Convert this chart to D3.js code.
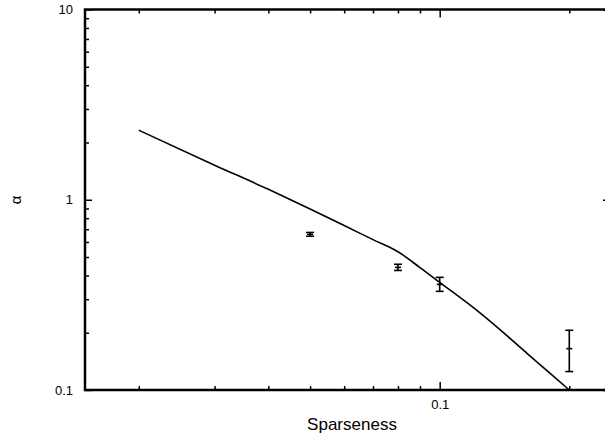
<!DOCTYPE html>
<html>
<head>
<meta charset="utf-8">
<script src="https://cdn.jsdelivr.net/npm/d3@7"></script>
<style>
    body { margin: 0; background: #fff; }
    svg { display: block; font-family: "Liberation Sans", Arial, sans-serif; }
</style>
</head>
<body>
<div id="chart"></div>
<script>
// Model curve (sparseness -> alpha)
const curveX = [0.02, 0.03, 0.04, 0.05, 0.06, 0.07, 0.08, 0.09, 0.1, 0.12, 0.14, 0.16, 0.18, 0.2];
const curveY = [2.32, 1.52, 1.135, 0.894, 0.732, 0.617, 0.533, 0.44, 0.368, 0.27, 0.202, 0.155, 0.123, 0.1];

// Measured points with error bars
const pointX = [0.05, 0.08, 0.1, 0.2];
const pointY = [0.658, 0.441, 0.359, 0.165];
const pointLo = [0.643, 0.425, 0.330, 0.125];
const pointHi = [0.673, 0.458, 0.391, 0.206];

const xMajor = [0.1];
const xMinor = [0.02, 0.03, 0.04, 0.05, 0.06, 0.07, 0.08, 0.09, 0.2];
const yMajor = [0.1, 1, 10];
const yMinor = [0.2, 0.3, 0.4, 0.5, 0.6, 0.7, 0.8, 0.9, 2, 3, 4, 5, 6, 7, 8, 9];

const width = 605, height = 436;
const plot = { left: 85, right: 611, top: 9.5, bottom: 390 };

const svg = d3.select("#chart").append("svg")
    .attr("width", width)
    .attr("height", height);

const x = d3.scaleLog().domain([0.015, 0.25]).range([plot.left, plot.right]);
const y = d3.scaleLog().domain([0.1, 10]).range([plot.bottom, plot.top]);

function styleAxis(g) {
    g.select(".domain").remove();
    g.selectAll("line").attr("stroke", "#000").attr("stroke-width", 1.5);
    g.selectAll("text").attr("fill", "#000").style("font-size", "13px");
}

// bottom
svg.append("g").attr("transform", `translate(0,${plot.bottom})`)
    .call(d3.axisBottom(x).tickValues(xMinor).tickSize(-4).tickFormat(""))
    .call(styleAxis);
svg.append("g").attr("transform", `translate(0,${plot.bottom})`)
    .call(d3.axisBottom(x).tickValues(xMajor).tickSize(-8).tickPadding(10).tickFormat(d3.format("")))
    .call(styleAxis);
// top
svg.append("g").attr("transform", `translate(0,${plot.top})`)
    .call(d3.axisTop(x).tickValues(xMinor).tickSize(-4).tickFormat(""))
    .call(styleAxis);
svg.append("g").attr("transform", `translate(0,${plot.top})`)
    .call(d3.axisTop(x).tickValues(xMajor).tickSize(-8).tickFormat(""))
    .call(styleAxis);
// left
svg.append("g").attr("transform", `translate(${plot.left},0)`)
    .call(d3.axisLeft(y).tickValues(yMinor).tickSize(-4).tickFormat(""))
    .call(styleAxis);
svg.append("g").attr("transform", `translate(${plot.left},0)`)
    .call(d3.axisLeft(y).tickValues(yMajor).tickSize(-7).tickPadding(12).tickFormat(d3.format("")))
    .call(styleAxis);
// right
svg.append("g").attr("transform", `translate(${plot.right},0)`)
    .call(d3.axisRight(y).tickValues(yMajor).tickSize(-8).tickFormat(""))
    .call(styleAxis);

// frame
svg.append("rect")
    .attr("x", plot.left).attr("y", plot.top)
    .attr("width", plot.right - plot.left).attr("height", plot.bottom - plot.top)
    .attr("fill", "none")
    .attr("stroke", "#000")
    .attr("stroke-width", 2.5);

// curve
const line = d3.line()
    .x((d, i) => x(curveX[i]))
    .y(d => y(d))
    .curve(d3.curveMonotoneX);

svg.append("path")
    .datum(curveY)
    .attr("d", line)
    .attr("fill", "none")
    .attr("stroke", "#000")
    .attr("stroke-width", 1.6);

// error bars
const bars = svg.append("g")
    .attr("stroke", "#000")
    .attr("stroke-width", 1.6)
    .selectAll("g")
    .data(pointX)
    .join("g");

bars.append("line")
    .attr("x1", d => x(d)).attr("x2", d => x(d))
    .attr("y1", (d, i) => y(pointLo[i]))
    .attr("y2", (d, i) => y(pointHi[i]));
bars.append("line")
    .attr("x1", d => x(d) - 4).attr("x2", d => x(d) + 4)
    .attr("y1", (d, i) => y(pointLo[i]))
    .attr("y2", (d, i) => y(pointLo[i]));
bars.append("line")
    .attr("x1", d => x(d) - 4).attr("x2", d => x(d) + 4)
    .attr("y1", (d, i) => y(pointHi[i]))
    .attr("y2", (d, i) => y(pointHi[i]));
bars.append("line")
    .attr("x1", d => x(d) - 3).attr("x2", d => x(d) + 3)
    .attr("y1", (d, i) => y(pointY[i]))
    .attr("y2", (d, i) => y(pointY[i]));

// axis titles
svg.append("text")
    .attr("x", 352).attr("y", 430)
    .attr("text-anchor", "middle")
    .style("font-size", "17px")
    .text("Sparseness");

svg.append("text")
    .attr("transform", "translate(21,200) rotate(-90)")
    .attr("text-anchor", "middle")
    .style("font-size", "15px")
    .text("α");
</script>
</body>
</html>
